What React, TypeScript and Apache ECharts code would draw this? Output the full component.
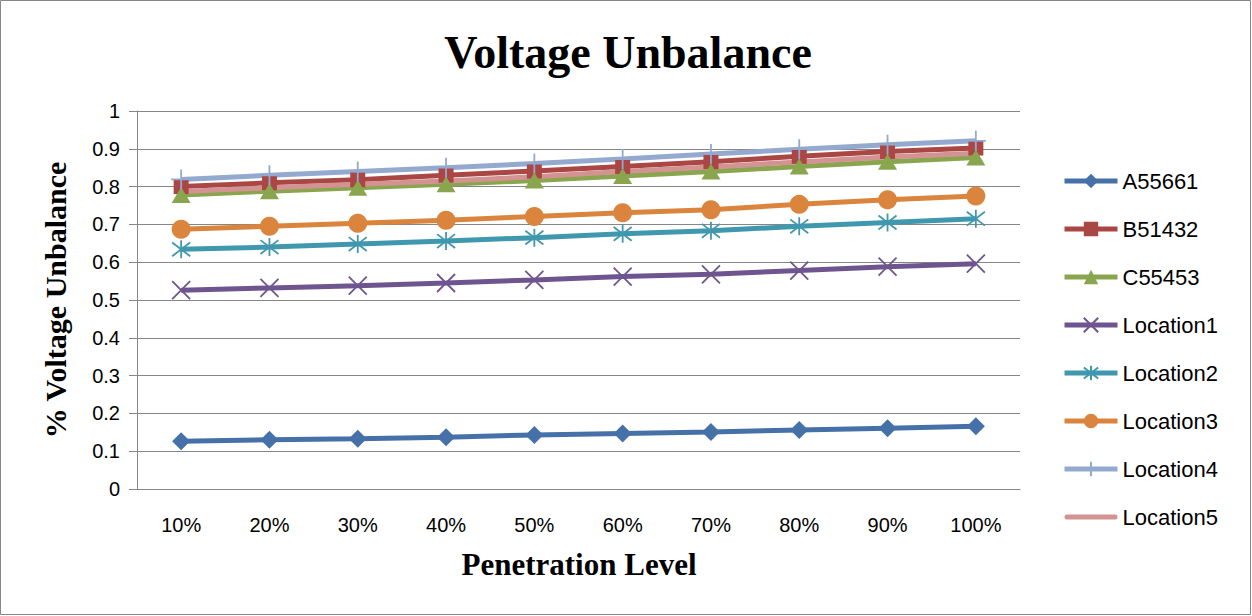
import React, { useEffect, useRef } from "react";
import * as echarts from "echarts";

const categories = ["10%", "20%", "30%", "40%", "50%", "60%", "70%", "80%", "90%", "100%"];
const yTicks = [0, 0.1, 0.2, 0.3, 0.4, 0.5, 0.6, 0.7, 0.8, 0.9, 1];

const seriesNames = ["A55661", "B51432", "C55453", "Location1", "Location2", "Location3", "Location4", "Location5"];

const A55661 = [0.126, 0.13, 0.133, 0.137, 0.143, 0.147, 0.151, 0.156, 0.161, 0.166];
const B51432 = [0.8, 0.81, 0.818, 0.83, 0.841, 0.853, 0.866, 0.88, 0.893, 0.902];
const C55453 = [0.778, 0.788, 0.797, 0.806, 0.816, 0.828, 0.84, 0.853, 0.866, 0.877];
const Location1 = [0.526, 0.532, 0.538, 0.545, 0.553, 0.562, 0.568, 0.578, 0.588, 0.596];
const Location2 = [0.634, 0.64, 0.648, 0.656, 0.665, 0.675, 0.683, 0.695, 0.705, 0.715];
const Location3 = [0.687, 0.695, 0.703, 0.711, 0.721, 0.731, 0.739, 0.753, 0.765, 0.775];
const Location4 = [0.819, 0.83, 0.84, 0.85, 0.861, 0.873, 0.886, 0.899, 0.911, 0.921];
const Location5 = [0.787, 0.797, 0.806, 0.815, 0.826, 0.84, 0.852, 0.865, 0.878, 0.888];

const seriesData = [A55661, B51432, C55453, Location1, Location2, Location3, Location4, Location5];
const colors = ["#4671A8", "#AA4643", "#89A54E", "#6F5590", "#4098AF", "#DB843D", "#93A9CF", "#D39392"];

const SANS = "'Liberation Sans', Arial, sans-serif";
const SERIF = "'Liberation Serif', 'Times New Roman', serif";

const markers: any[] = [
  { symbol: "diamond", size: 18, stroke: false },
  { symbol: "rect", size: 15, stroke: false },
  { symbol: "triangle", size: [19, 16], stroke: false },
  { symbol: "path://M0,0L10,10M10,0L0,10", size: 18, stroke: true },
  { symbol: "path://M0,0L10,10M10,0L0,10M5,-1.5L5,11.5", size: 18, stroke: true },
  { symbol: "circle", size: 19, stroke: false },
  { symbol: "path://M5,0L5,10M0,5L10,5", size: 20, stroke: true },
  { symbol: "none", size: 0, stroke: false },
];

export default function App() {
  const ref = useRef<HTMLDivElement>(null);
  useEffect(() => {
    if (!ref.current) return;
    const chart = echarts.init(ref.current, null, { renderer: "svg" });
    const series = seriesNames.map((name, i) => {
      const m = markers[i];
      return {
        name,
        type: "line",
        data: seriesData[i],
        symbol: m.symbol,
        symbolSize: m.size,
        showAllSymbol: true,
        lineStyle: { color: colors[i], width: 5 },
        itemStyle: m.stroke
          ? { color: colors[i], borderColor: colors[i], borderWidth: 1.8 }
          : { color: colors[i], borderWidth: 0 },
        emphasis: { disabled: true },
      };
    });
    const legendData: any[] = seriesNames.map((name, i) =>
      markers[i].symbol === "none"
        ? { name, icon: "path://M2.5,0L50.5,0A2.5,2.5,0,0,1,50.5,5L2.5,5A2.5,2.5,0,0,1,2.5,0Z" }
        : { name }
    );
    chart.setOption({
      animation: false,
      backgroundColor: "#ffffff",
      grid: { left: 137, right: 232, top: 111, bottom: 127, containLabel: false },
      xAxis: {
        type: "category",
        data: categories,
        boundaryGap: true,
        axisLine: { lineStyle: { color: "#868686", width: 1 } },
        axisTick: { show: false },
        axisLabel: { color: "#000", fontFamily: SANS, fontSize: 20, margin: 26 },
      },
      yAxis: {
        type: "value",
        min: 0,
        max: 1,
        interval: 0.1,
        axisLine: { show: true, lineStyle: { color: "#868686", width: 1 } },
        axisTick: { show: true, length: 8, lineStyle: { color: "#868686" } },
        splitLine: { lineStyle: { color: "#868686", width: 1 } },
        axisLabel: {
          color: "#000",
          fontFamily: SANS,
          fontSize: 20,
          margin: 17,
          formatter: (v: number) => {
            const t = yTicks.find((x) => Math.abs(x - v) < 1e-9);
            return String(t !== undefined ? t : v);
          },
        },
      },
      legend: {
        orient: "vertical",
        left: 1057,
        top: 165,
        itemWidth: 53,
        itemHeight: 18,
        itemGap: 26,
        data: legendData,
        lineStyle: { width: 5 },
        textStyle: { color: "#000", fontFamily: SANS, fontSize: 22, lineHeight: 22 },
        selectedMode: false,
      },
      graphic: [
        {
          type: "rect",
          shape: { x: 0.5, y: 0.5, width: 1250, height: 614 },
          style: { fill: "none", stroke: "#868686", lineWidth: 1 },
          silent: true,
        },
        {
          type: "text",
          x: 628,
          y: 52,
          style: {
            text: "Voltage Unbalance",
            font: `bold 46px ${SERIF}`,
            fill: "#000",
            align: "center",
            verticalAlign: "middle",
          },
        },
        {
          type: "text",
          x: 579,
          y: 564,
          style: {
            text: "Penetration Level",
            font: `bold 31px ${SERIF}`,
            fill: "#000",
            align: "center",
            verticalAlign: "middle",
          },
        },
        {
          type: "text",
          x: 55,
          y: 300,
          rotation: Math.PI / 2,
          style: {
            text: "% Voltage Unbalance",
            font: `bold 30px ${SERIF}`,
            fill: "#000",
            align: "center",
            verticalAlign: "middle",
          },
        },
      ],
      series,
    });
    return () => chart.dispose();
  }, []);
  return (
    <div
      ref={ref}
      style={{ position: "fixed", left: 0, top: 0, width: 1252, height: 616, background: "#fff" }}
    />
  );
}
